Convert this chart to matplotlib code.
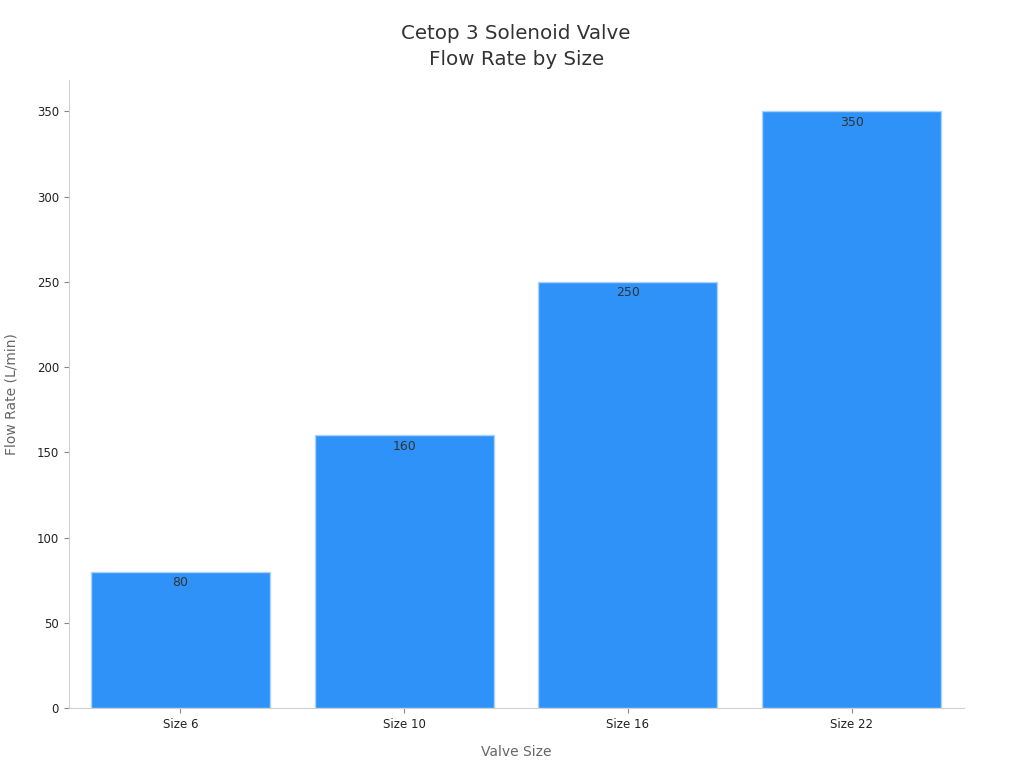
import numpy as np
import matplotlib
matplotlib.use('Agg')
import matplotlib.pyplot as plt

sizes = ['Size 6', 'Size 10', 'Size 16', 'Size 22']
flow_rates = [80, 160, 250, 350]

fig, ax = plt.subplots(figsize=(10.24, 7.68), dpi=100)
fig.subplots_adjust(left=0.067, right=0.941, bottom=0.078, top=0.896)

x = np.arange(len(sizes))
bars = ax.bar(x, flow_rates, width=0.8, color='#2F92F8', edgecolor='#A9D3FB', linewidth=1)

for b, v in zip(bars, flow_rates):
    ax.text(b.get_x() + b.get_width() / 2, v - 2.5, str(v), ha='center', va='top',
            fontsize=9, color='#333333')

ax.set_xticks(x)
ax.set_xticklabels(sizes)
ax.set_xlim(-0.5, 3.5)
ax.set_ylim(0, 368.5)
ax.set_yticks(range(0, 351, 50))

ax.set_title('Cetop 3 Solenoid Valve\nFlow Rate by Size', fontsize=14.3, color='#333333',
             pad=11, linespacing=1.45)
ax.set_xlabel('Valve Size', fontsize=10, color='#666666', labelpad=10)
ax.set_ylabel('Flow Rate (L/min)', fontsize=10, color='#666666', labelpad=13)

for s in ['top', 'right']:
    ax.spines[s].set_visible(False)
for s in ['left', 'bottom']:
    ax.spines[s].set_color('#D0D0D0')
ax.tick_params(axis='both', colors='#888888', labelcolor='#222222', labelsize=8.5)

plt.savefig('out.png', dpi=100)
